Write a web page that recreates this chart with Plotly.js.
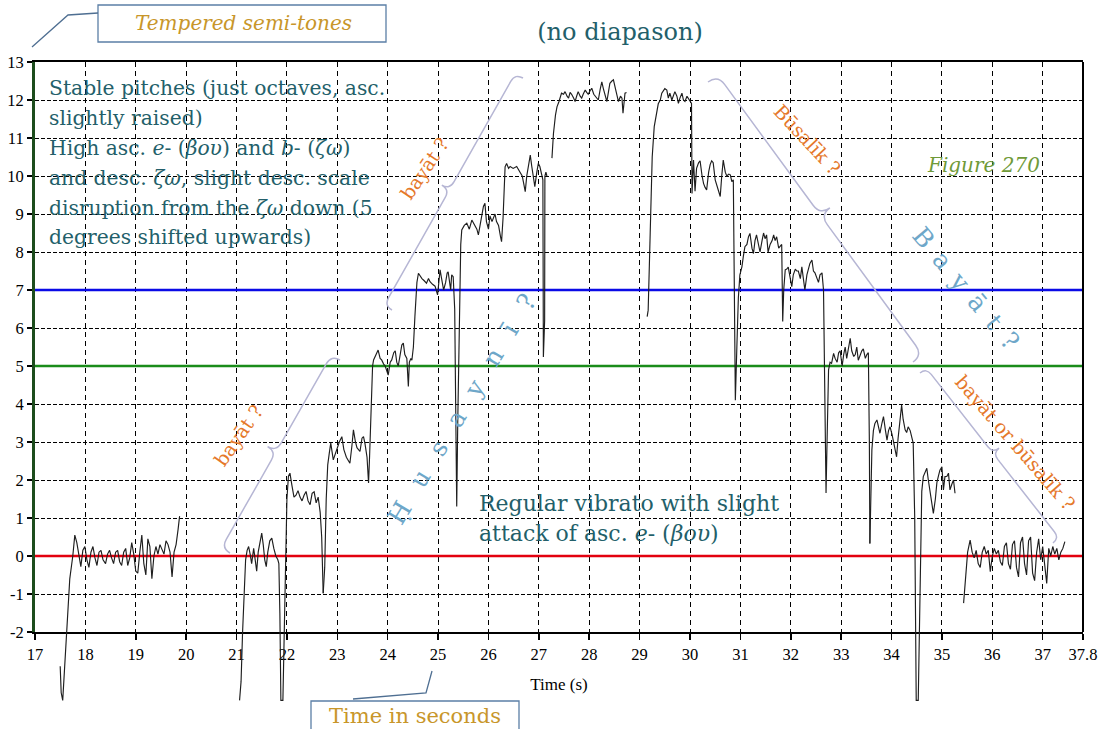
<!DOCTYPE html>
<html>
<head>
<meta charset="utf-8">
<script src="https://cdn.plot.ly/plotly-3.0.1.min.js"></script>
<style>html,body{margin:0;padding:0;background:#fff;}#chart{width:1101px;height:729px;}</style>
</head>
<body>
<div id="chart"></div>
<script>
// ---------- data ----------
const xTickVals = [17,18,19,20,21,22,23,24,25,26,27,28,29,30,31,32,33,34,35,36,37,37.8];
const xTickText = ["17","18","19","20","21","22","23","24","25","26","27","28","29","30","31","32","33","34","35","36","37","37.8"];
const yTickVals = [-2,-1,0,1,2,3,4,5,6,7,8,9,10,11,12,13];
const yTickText = ["-2","-1","0","1","2","3","4","5","6","7","8","9","10","11","12","13"];
const refLevels = [0, 5, 7];
const refColors = ["#e3000f", "#1a8c1a", "#0a0ae6"];

// phrase 1: 17.5 s - 22.7 s
const time1 = [17.50,17.52,17.55,17.57,17.63,17.69,17.75,17.79,17.83,17.87,17.91,17.95,17.99,18.03,18.07,18.11,18.15,18.19,18.23,18.27,18.31,18.35,18.40,18.44,18.48,18.52,18.56,18.60,18.64,18.68,18.72,18.76,18.80,18.84,18.88,18.92,18.96,19.00,19.04,19.08,19.12,19.16,19.20,19.24,19.28,19.32,19.36,19.40,19.44,19.48,19.52,19.56,19.60,19.64,19.68,19.72,19.76,19.80,19.84,19.87,null,
  21.06,21.09,21.12,21.15,21.18,21.21,21.24,21.27,21.30,21.34,21.37,21.40,21.43,21.47,21.50,21.53,21.56,21.59,21.62,21.66,21.70,21.74,21.78,21.82,21.84,21.86,21.88,21.92,21.95,21.98,22.00,22.03,22.06,22.10,22.14,22.18,22.22,22.26,22.30,22.34,22.38,22.42,22.46,22.50,22.54,22.58,22.62,22.66,22.69,22.72];
const pitch1 = [-2.9,-3.6,-3.8,-3.3,-2.1,-0.6,0.0,0.55,0.35,0.05,-0.28,0.15,0.25,-0.1,-0.3,0.1,0.25,-0.05,-0.25,0.1,0.15,-0.1,-0.2,0.05,0.15,-0.05,-0.2,0.1,0.15,-0.15,-0.25,0.1,0.2,-0.25,-0.05,0.35,0.05,-0.4,-0.45,0.1,0.55,-0.2,-0.5,0.45,0.25,-0.6,0.0,0.25,0.05,0.3,0.15,0.05,0.4,0.3,0.1,-0.55,0.1,0.3,0.7,1.05,null,
  -3.8,-3.3,-2.0,-0.9,-0.1,0.15,0.25,0.05,-0.2,0.2,-0.1,-0.4,0.1,0.45,0.6,0.3,-0.1,-0.28,0.1,0.4,0.47,0.2,0.0,-0.1,-0.2,-1.5,-3.8,-3.8,-1.5,0.5,1.5,2.1,2.18,1.85,1.55,1.6,1.72,1.55,1.45,1.6,1.7,1.45,1.35,1.65,1.69,1.4,1.55,1.15,0.5,-0.98];

// phrase 2: 22.7 s - 28.75 s
const time2 = [22.72,22.75,22.78,22.81,22.84,22.87,22.92,22.96,22.99,23.04,23.09,23.13,23.18,23.25,23.29,23.32,23.36,23.39,23.45,23.49,23.52,23.55,23.59,23.62,23.64,23.66,23.68,23.70,23.72,23.77,23.81,23.85,23.88,23.92,23.95,24.01,24.05,24.08,24.12,24.15,24.18,24.21,24.25,24.28,24.31,24.34,24.38,24.41,24.43,24.46,24.48,24.51,24.54,24.58,24.61,24.65,24.68,24.72,24.77,24.81,24.84,24.89,24.94,24.99,25.02,25.04,25.07,25.11,25.15,25.18,25.20,25.23,25.25,25.27,25.30,25.33,25.35,25.37,25.39,25.42,25.45,25.47,25.52,25.57,25.62,25.67,25.72,25.77,25.80,25.84,25.87,25.90,25.93,25.96,26.00,26.03,26.07,26.10,26.13,26.16,26.20,26.24,26.26,26.29,26.31,26.33,26.36,26.40,26.43,26.49,26.56,26.63,26.67,26.70,26.73,26.76,26.80,26.83,26.86,26.89,26.92,26.96,26.99,27.02,27.06,27.08,27.09,27.10,27.115,27.12,27.14,27.16,null,
  27.26,27.29,27.33,27.36,27.40,27.45,27.49,27.52,27.56,27.59,27.62,27.65,27.69,27.72,27.75,27.78,27.82,27.85,27.88,27.92,27.95,27.98,28.02,28.05,28.09,28.12,28.15,28.18,28.22,28.25,28.28,28.31,28.35,28.38,28.41,28.45,28.48,28.52,28.55,28.58,28.62,28.65,28.67,28.69,28.71,28.74];
const pitch2 = [-0.98,-0.3,1.5,2.4,2.7,2.97,2.53,2.7,2.85,3.0,3.14,2.8,2.6,2.44,2.9,3.32,3.0,2.85,2.75,3.1,3.14,2.95,2.6,1.92,2.6,3.5,4.3,5.0,5.16,5.3,5.42,5.2,5.16,5.05,5.0,4.76,5.1,5.16,5.35,5.4,5.1,5.0,5.3,5.55,5.6,5.3,5.2,4.46,5.1,5.2,5.15,5.5,6.3,7.2,7.44,7.35,7.3,7.25,7.18,7.3,7.22,7.15,7.1,6.87,7.2,7.53,7.3,7.0,7.2,7.45,7.48,7.1,7.0,7.4,7.35,6.5,3.0,1.3,3.5,6.5,8.2,8.58,8.7,8.76,8.6,8.84,8.7,8.6,8.45,8.8,9.0,9.2,9.28,8.8,8.6,8.95,8.8,8.9,9.0,8.8,8.7,8.4,8.27,8.9,9.6,10.24,10.33,10.2,10.25,10.2,10.25,10.1,10.0,9.8,9.59,10.0,10.35,10.55,10.25,10.0,9.72,10.1,10.33,10.25,10.05,9.9,5.24,5.5,6.2,10.0,10.1,10.0,null,
  10.47,11.12,11.6,11.82,11.96,12.18,12.15,12.22,12.1,12.05,12.2,12.15,12.05,11.96,12.1,12.22,12.1,12.05,12.15,12.26,12.2,12.15,12.25,12.31,12.15,12.1,12.05,12.0,12.3,12.48,12.3,12.18,11.96,12.2,12.44,12.5,12.53,12.3,12.1,11.96,12.1,12.05,11.65,11.9,12.18,12.2];

// phrase 3: 29.15 s - 33.57 s
const time3 = [29.15,29.17,29.21,29.25,29.29,29.34,29.37,29.41,29.44,29.50,29.54,29.57,29.60,29.64,29.67,29.70,29.74,29.77,29.80,29.84,29.87,29.90,29.94,29.97,30.00,30.03,30.04,30.06,30.07,30.10,30.13,30.17,30.20,30.24,30.27,30.30,30.33,30.37,30.40,30.43,30.46,30.50,30.53,30.57,30.60,30.63,30.66,30.70,30.73,30.77,30.80,30.83,30.86,30.88,30.90,30.93,30.96,30.99,31.03,31.06,31.09,31.13,31.16,31.19,31.23,31.26,31.29,31.32,31.36,31.39,31.43,31.46,31.49,31.52,31.55,31.59,31.63,31.66,31.69,31.72,31.76,31.79,31.82,31.84,31.86,31.89,31.92,31.95,31.99,32.02,32.05,32.09,32.12,32.15,32.19,32.22,32.25,32.28,32.32,32.35,32.38,32.42,32.45,32.48,32.52,32.55,32.58,32.62,32.65,32.68,32.70,32.72,32.75,32.78,32.81,32.85,32.88,32.92,32.95,32.98,33.02,33.05,33.08,33.11,33.15,33.18,33.21,33.25,33.28,33.31,33.34,33.38,33.41,33.44,33.48,33.51,33.54,33.56,33.57];
const pitch3 = [6.3,6.47,8.5,10.5,11.3,11.74,11.9,12.0,12.18,12.3,12.26,12.05,12.18,12.0,12.1,12.22,12.1,11.91,12.05,12.18,12.0,11.96,12.1,12.04,12.0,11.91,9.54,10.1,10.42,9.6,10.2,10.35,10.4,10.0,9.8,9.7,9.63,10.1,10.3,10.4,10.35,9.9,9.75,9.55,9.46,10.0,10.42,10.1,10.0,10.05,10.03,9.85,9.9,7.0,4.1,5.5,6.8,7.4,7.61,7.9,8.14,8.2,8.4,8.49,8.1,7.96,8.3,8.45,8.2,8.0,8.3,8.5,8.35,8.45,8.0,8.2,8.3,8.45,8.3,8.4,8.1,8.15,8.2,6.17,7.0,7.53,7.55,7.6,7.3,7.09,7.4,7.55,7.5,7.5,7.3,7.61,7.3,7.0,7.4,7.55,7.7,7.79,7.5,7.45,7.3,7.2,7.4,7.45,7.0,4.0,1.66,3.0,4.9,5.1,5.07,5.33,5.2,5.1,5.35,5.4,5.0,5.3,5.5,5.2,5.45,5.73,5.4,5.25,5.3,5.5,5.15,5.3,5.4,5.45,5.2,5.3,5.35,3.0,0.33];

// phrase 4: 33.57 s - 37.45 s
const time4 = [33.57,33.59,33.61,33.64,33.67,33.71,33.74,33.77,33.81,33.84,33.88,33.91,33.94,33.97,34.01,34.04,34.07,34.10,34.13,34.17,34.20,34.23,34.27,34.30,34.33,34.37,34.40,34.43,34.46,34.49,34.53,34.56,34.58,34.60,34.63,34.67,34.70,34.73,34.76,34.80,34.83,34.87,34.90,34.93,34.96,35.00,35.03,35.06,35.10,35.13,35.16,35.20,35.23,35.26,null,
  35.43,35.47,35.51,35.56,35.60,35.64,35.68,35.72,35.76,35.80,35.84,35.88,35.92,35.96,36.00,36.04,36.08,36.12,36.16,36.20,36.24,36.28,36.32,36.36,36.40,36.44,36.48,36.52,36.56,36.60,36.64,36.68,36.72,36.76,36.80,36.84,36.88,36.92,36.96,37.00,37.04,37.08,37.12,37.16,37.20,37.24,37.28,37.32,37.36,37.40,37.44];
const pitch4 = [0.33,1.5,2.8,3.3,3.49,3.58,3.4,3.23,3.5,3.67,3.3,3.05,3.3,3.4,3.2,2.97,2.8,2.61,3.1,3.67,3.97,3.6,3.32,3.25,3.4,3.3,3.14,2.97,1.0,-3.8,-3.8,-1.0,1.21,1.7,2.09,2.2,2.31,2.0,1.74,1.3,1.12,1.5,1.93,2.1,2.26,2.35,1.74,2.09,2.1,2.18,1.74,1.9,2.0,1.65,null,
  -1.24,-0.6,0.1,0.42,0.1,-0.05,0.15,-0.2,-0.3,0.1,0.25,0.05,0.15,-0.41,0.0,0.2,0.05,0.15,-0.15,-0.25,0.25,0.35,-0.2,-0.35,0.3,0.4,-0.3,-0.55,0.35,0.5,-0.2,-0.5,0.4,0.5,-0.45,-0.65,0.1,0.45,-0.1,0.25,-0.25,-0.72,0.2,0.0,0.25,0.05,0.2,-0.1,0.1,0.2,0.38];

// ---------- geometry helpers (pixel -> paper) ----------
const ML = 35, MR = 18, MT = 62, MB = 20, W = 1101, H = 729;
const PW = W - ML - MR, PH = H - MT - MB;
const PX = px => (px - ML) / PW;
const PY = py => (H - MB - py) / PH;

function bracePath(ax, ay, bx, by, h) {
  const dx = bx - ax, dy = by - ay, L = Math.hypot(dx, dy);
  const ux = dx / L, uy = dy / L, nx = uy, ny = -ux;
  const mx = (ax + bx) / 2, my = (ay + by) / 2;
  const p = (x, y) => PX(x).toFixed(5) + ',' + PY(y).toFixed(5);
  return 'M' + p(ax, ay) +
    ' Q' + p(ax + nx*h, ay + ny*h) + ' ' + p(ax + ux*h + nx*h, ay + uy*h + ny*h) +
    ' L' + p(mx - ux*h + nx*h, my - uy*h + ny*h) +
    ' Q' + p(mx + nx*h, my + ny*h) + ' ' + p(mx + 2*nx*h, my + 2*ny*h) +
    ' Q' + p(mx + nx*h, my + ny*h) + ' ' + p(mx + ux*h + nx*h, my + uy*h + ny*h) +
    ' L' + p(bx - ux*h + nx*h, by - uy*h + ny*h) +
    ' Q' + p(bx + nx*h, by + ny*h) + ' ' + p(bx, by);
}
function polyPath(pts) {
  return pts.map((q, i) => (i ? 'L' : 'M') + PX(q[0]).toFixed(5) + ',' + PY(q[1]).toFixed(5)).join(' ');
}

// ---------- traces ----------
const traces = [];
refLevels.forEach((lv, i) => {
  traces.push({x: [17, 37.8], y: [lv, lv], xaxis: 'x', yaxis: 'y', mode: 'lines',
    line: {color: refColors[i], width: 2.5}, hoverinfo: 'skip'});
});
[[time1, pitch1], [time2, pitch2], [time3, pitch3], [time4, pitch4]].forEach(([t, p]) => {
  traces.push({x: t, y: p, xaxis: 'x2', yaxis: 'y2', mode: 'lines',
    line: {color: '#1e1e1e', width: 1.15}, connectgaps: false, hoverinfo: 'skip'});
});

// ---------- annotations ----------
const TEAL = '#235f6a', ORANGE = '#e5782a', BLUE = '#6ea7c9', GOLD = '#c8962a', OLIVE = '#6f9a38';
const SERIF = 'DejaVu Serif';
const ann = [];
function txt(text, px, py, opts) {
  ann.push(Object.assign({text: text, xref: 'paper', yref: 'paper', x: PX(px), y: PY(py),
    xanchor: 'left', yanchor: 'middle', showarrow: false,
    font: {family: SERIF, size: 20, color: TEAL}}, opts || {}));
}
const noteLines = ["Stable pitches (just octaves, asc.", "slightly raised)",
  "High asc. <i>e</i>- (<i>βου</i>) and <i>b</i>- (<i>ζω</i>)",
  "and desc. <i>ζω</i>, slight desc. scale",
  "disruption from the <i>ζω</i> down (5", "degrees shifted upwards)"];
const noteY = [88, 118, 148, 178, 208, 237];
noteLines.forEach((s, i) => txt(s, 47, noteY[i], {font: {family: SERIF, size: 20.3, color: TEAL}}));
txt("Regular vibrato with slight", 477, 503, {font: {family: SERIF, size: 22, color: TEAL}});
txt("attack of asc. <i>e</i>- (<i>βου</i>)", 477, 533, {font: {family: SERIF, size: 22, color: TEAL}});
txt("Figure 270", 983, 165, {xanchor: 'center', font: {family: SERIF, size: 20, color: OLIVE, style: 'italic'}});
const rot = (s, px, py, ang, color, size) => txt(s, px, py, {xanchor: 'center', textangle: ang, font: {family: SERIF, size: size, color: color}});
rot("bayāt ?", 424, 169, -56, ORANGE, 19);
rot("bayāt ?", 238, 436, -55, ORANGE, 19);
rot("Būsalīk ?", 807, 139, 47, ORANGE, 19);
rot("bayāt or būsalīk ?", 1015, 442, 49, ORANGE, 19);
rot(["Ḥ","u","s","a","y","n","ī","?"].join('\u00a0\u00a0\u2009'), 462, 410, -59, BLUE, 25);
rot(["B","a","y","ā","t","?"].join('\u00a0\u2009'), 966, 288, 50, BLUE, 25);
// boxed labels outside the plot
txt("Tempered semi-tones", 243, 23, {xanchor: 'center', font: {family: SERIF, size: 20, color: GOLD, style: 'italic'}});
txt("Time in seconds", 415, 716, {xanchor: 'center', font: {family: SERIF, size: 21, color: GOLD}});

// ---------- shapes ----------
const BR = '#b6b6d4';
const shapes = [
  {type: 'line', xref: 'x domain', yref: 'y domain', x0: 1, x1: 1, y0: 0, y1: 1, line: {color: '#000', width: 2}},
  {type: 'path', xref: 'paper', yref: 'paper', path: bracePath(392, 310, 523, 78, 9), line: {color: BR, width: 1.5}},
  {type: 'path', xref: 'paper', yref: 'paper', path: bracePath(230, 553, 340, 360, 10), line: {color: BR, width: 1.5}},
  {type: 'path', xref: 'paper', yref: 'paper', path: bracePath(708, 82, 913, 362, 12), line: {color: BR, width: 1.5}},
  {type: 'path', xref: 'paper', yref: 'paper', path: bracePath(920, 373, 1053, 543, 8), line: {color: BR, width: 1.5}},
  {type: 'rect', xref: 'paper', yref: 'paper', x0: PX(98), x1: PX(386), y0: PY(42), y1: PY(5), line: {color: '#5b7fa6', width: 1.3}, fillcolor: 'rgba(0,0,0,0)'},
  {type: 'path', xref: 'paper', yref: 'paper', path: polyPath([[32, 47], [68, 15], [98, 13]]), line: {color: '#4f6f92', width: 1.3}},
  {type: 'rect', xref: 'paper', yref: 'paper', x0: PX(311), x1: PX(519), y0: PY(745), y1: PY(701), line: {color: '#5b7fa6', width: 1.3}, fillcolor: 'rgba(0,0,0,0)'},
  {type: 'path', xref: 'paper', yref: 'paper', path: polyPath([[432, 671], [426, 693], [353, 699]]), line: {color: '#4f6f92', width: 1.3}}
];

const tickFont = {family: 'Liberation Serif', size: 16.5, color: '#000'};
const layout = {
  width: W, height: H,
  margin: {l: ML, r: MR, t: MT, b: MB, pad: 0},
  paper_bgcolor: '#ffffff', plot_bgcolor: 'rgba(0,0,0,0)',
  showlegend: false,
  title: {text: '(no diapason)', xref: 'container', yref: 'container', x: 620 / W, y: 1 - 32 / H,
    xanchor: 'center', yanchor: 'middle', font: {family: SERIF, size: 24, color: TEAL}},
  xaxis: {domain: [0, 1], anchor: 'y', range: [17, 37.8], tickvals: xTickVals, ticktext: xTickText,
    ticks: 'outside', ticklen: 6, tickwidth: 1.5, tickcolor: '#000',
    showline: true, linecolor: '#000', linewidth: 2, mirror: true,
    showgrid: true, gridcolor: '#000', gridwidth: 1, griddash: '5px,4px', zeroline: false,
    tickfont: tickFont, title: {text: 'Time (s)', font: {family: 'Liberation Serif', size: 17, color: '#000'}, standoff: 15}},
  yaxis: {domain: [(H - MB - 632) / PH, 1], anchor: 'x', range: [-2, 13], tickvals: yTickVals, ticktext: yTickText,
    ticks: 'outside', ticklen: 5, tickwidth: 1.5, tickcolor: '#000',
    showline: true, linecolor: '#1d4d1d', linewidth: 3, mirror: false,
    showgrid: true, gridcolor: '#000', gridwidth: 1, griddash: '4px,2px', zeroline: false,
    tickfont: tickFont},
  xaxis2: {domain: [0, 1], anchor: 'y2', range: [17, 37.8], visible: false},
  yaxis2: {domain: [0, 1], anchor: 'x2', range: [13 - PH / 38, 13], visible: false},
  shapes: shapes,
  annotations: ann
};
Plotly.newPlot('chart', traces, layout, {staticPlot: true, displayModeBar: false});
</script>
</body>
</html>
